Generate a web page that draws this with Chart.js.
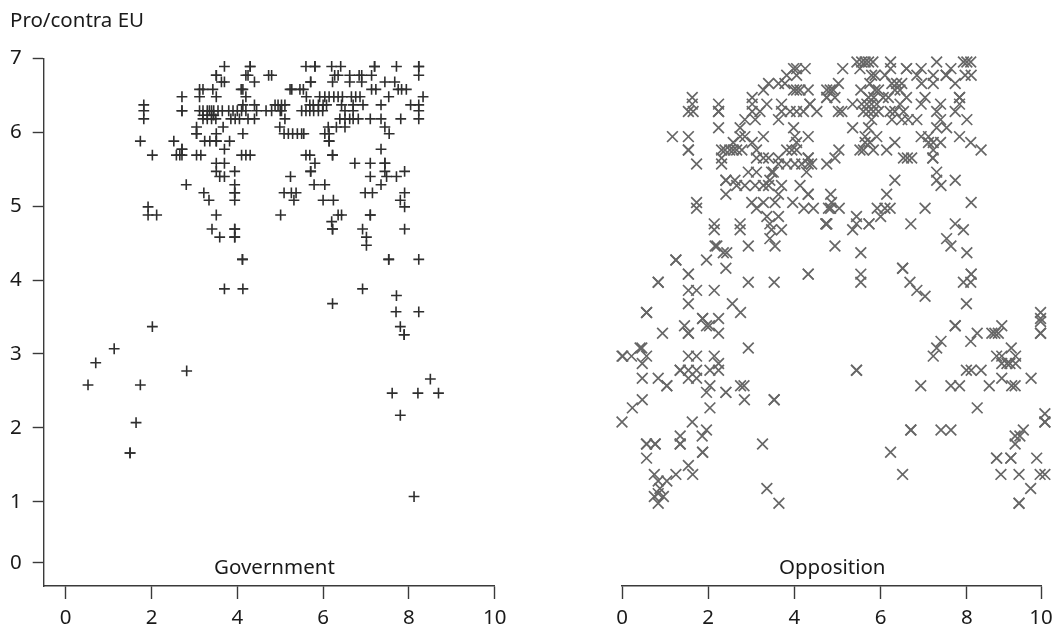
<!DOCTYPE html>
<html>
<head>
<meta charset="utf-8">
<script src="https://cdn.jsdelivr.net/npm/chart.js@4"></script>
<style>
  html, body { margin:0; padding:0; background:#fff; }
  body { position:relative; width:1060px; height:629px; overflow:hidden; font-family:"Noto Sans", sans-serif; color:#1a1a1a; }
  canvas { position:absolute; top:0; }
  .txt { position:absolute; font-size:20.5px; line-height:24px; white-space:nowrap; }
</style>
</head>
<body>
<canvas id="govChart" width="530" height="629" style="left:0"></canvas>
<canvas id="oppChart" width="530" height="629" style="left:530px"></canvas>
<div class="txt" style="left:10px;top:7px">Pro/contra EU</div>
<div class="txt" style="left:214px;top:554px">Government</div>
<div class="txt" style="left:779px;top:554px">Opposition</div>
<script>
// y levels and the x values read at each level
const govLevels = [6.89,6.77,6.68,6.58,6.48,6.37,6.29,6.23,6.18,6.07,5.98,5.88,5.77,5.69,5.58,5.47,5.4,5.29,5.18,5.08,4.99,4.88,4.79,4.69,4.58,4.47,4.28,3.88,3.79,3.68,3.57,3.37,3.26,3.07,2.88,2.77,2.66,2.58,2.47,2.17,2.07,1.66,1.07];
const govRows = [
  [3.7,4.3,4.3,5.6,5.81,5.81,6.2,6.41,7.2,7.2,7.71,8.23,8.23],
  [3.51,3.51,4.2,4.25,4.73,4.8,6.27,6.35,6.62,6.84,6.9,7.13,8.23],
  [3.63,3.7,4.4,5.71,5.71,6.22,6.62,6.9,7.44,7.67],
  [3.12,3.2,3.43,4.09,4.13,5.23,5.27,5.46,5.54,7.13,7.23,7.75,7.83,7.94],
  [2.71,3.12,3.51,4.2,5.61,5.92,6.04,6.14,6.25,6.35,6.45,6.66,6.76,6.86,7.53,8.33],
  [1.82,4.13,4.4,4.88,4.95,5.03,5.11,5.69,5.77,5.89,6.0,6.08,6.43,6.7,6.93,7.35,8.04,8.23],
  [1.82,2.71,2.71,3.12,3.2,3.3,3.35,3.4,3.45,3.55,3.65,3.8,3.9,4.0,4.1,4.2,4.45,4.67,4.8,5.0,5.03,5.5,5.6,5.69,5.78,5.89,5.99,6.51,6.7,8.23],
  [3.2,3.3,3.4,3.45],
  [1.82,3.2,3.3,3.4,3.5,3.85,3.95,4.05,4.25,4.4,5.11,6.39,6.51,6.62,6.7,6.82,7.1,7.35,7.81,8.23],
  [3.05,3.67,4.99,6.12,6.31,6.51,7.44],
  [3.05,3.05,3.51,4.13,5.09,5.19,5.29,5.4,5.5,5.55,6.04,6.14,7.54],
  [1.74,2.52,3.24,3.36,3.51,3.51,3.82,6.14,6.14],
  [2.71,2.71,3.7,7.35],
  [2.02,2.58,2.66,2.71,3.05,3.15,4.1,4.2,4.3,5.6,5.69,6.22,6.22],
  [3.51,3.7,5.81,6.74,7.1,7.44,7.44],
  [3.51,3.94,5.71,5.71,7.44,7.9],
  [3.59,3.7,5.24,7.1,7.48,7.71],
  [2.81,3.94,5.79,6.04,7.35],
  [3.22,3.94,3.94,5.09,5.26,5.37,6.98,7.15,7.9],
  [3.34,3.94,5.32,6.0,6.24,7.8],
  [1.92,7.9],
  [1.92,2.12,3.51,5.01,6.35,6.43,7.1,7.1],
  [6.2],
  [3.41,3.94,3.94,6.22,6.22,6.92,7.9],
  [3.59,3.94,3.94,7.01],
  [7.01],
  [4.12,4.12,7.53,7.53,8.23],
  [3.7,4.13,6.92],
  [7.71],
  [6.22],
  [7.7,8.23],
  [2.02,7.8],
  [7.89,7.89],
  [1.13],
  [0.7],
  [2.82],
  [8.5],
  [0.52,1.74],
  [7.61,8.21,8.69],
  [7.8],
  [1.64],
  [1.5,1.5],
  [8.12]
];

const oppLevels = [6.95,6.86,6.77,6.66,6.57,6.47,6.38,6.28,6.17,6.06,5.94,5.86,5.76,5.65,5.57,5.46,5.35,5.28,5.16,5.05,4.97,4.86,4.76,4.68,4.56,4.46,4.37,4.27,4.16,4.08,3.97,3.86,3.78,3.68,3.56,3.48,3.44,3.38,3.28,3.17,3.08,2.97,2.87,2.78,2.67,2.57,2.48,2.38,2.27,2.19,2.08,1.97,1.89,1.78,1.67,1.59,1.49,1.37,1.28,1.18,1.11,1.07,0.98];
const oppRows = [
  [5.45,5.56,5.64,5.72,5.82,6.23,7.3,7.92,8.0,8.09],
  [3.98,4.05,4.25,5.12,5.52,6.23,6.6,6.6,6.94,7.63],
  [3.82,4.05,5.79,5.87,6.1,6.84,7.22,7.52,7.52,7.96,8.1],
  [3.4,3.63,3.78,5.02,5.75,6.26,6.37,6.49,6.95,7.22,7.73],
  [3.28,3.98,4.05,4.13,4.32,4.75,4.83,4.9,5.54,5.87,5.95,6.33,6.45],
  [1.63,3.02,4.75,4.75,4.94,5.72,5.84,6.06,6.18,6.6,7.03,7.83,7.83],
  [1.63,2.24,3.02,3.36,3.7,4.36,4.36,5.35,5.56,5.68,5.79,5.91,6.45,6.94,7.39,7.83],
  [1.54,1.65,2.24,2.24,3.02,3.2,3.7,3.9,4.05,4.21,4.52,5.02,5.1,5.6,5.72,5.83,5.95,6.22,6.33,6.53,7.3,7.73],
  [2.85,3.09,3.63,5.79,6.26,6.49,6.64,6.84,7.39,8.0],
  [2.24,2.74,3.98,5.35,5.72,7.3,7.53],
  [1.17,1.54,2.74,2.85,3.28,4.01,4.32,5.64,5.91,6.94,7.11,7.83],
  [2.58,3.02,4.05,5.64,5.75,6.33,7.11,7.22,7.39,8.09],
  [1.54,1.54,2.31,2.39,2.5,2.58,2.66,2.78,3.12,3.82,3.94,4.05,5.03,5.52,5.6,5.83,6.14,7.22,8.33],
  [2.31,3.12,3.28,3.4,3.63,4.32,4.32,4.94,6.53,6.62,6.72,7.21,7.21],
  [1.73,2.31,3.63,3.82,4.01,4.17,4.32,4.4,4.75],
  [2.93,3.12,3.47,3.51,4.28,7.3],
  [2.41,2.41,2.62,3.43,6.33,7.3,7.73],
  [2.66,2.85,3.09,3.28,3.4,3.7,4.13,7.4],
  [2.41,3.63,4.32,4.32,4.84,6.14],
  [1.73,3.01,3.28,3.55,3.96,4.86,8.1],
  [1.73,3.12,4.22,4.44,4.79,4.84,5.04,5.92,6.1,6.22,7.03],
  [3.36,3.63,5.44,6.0],
  [2.14,2.74,3.43,4.73,4.73,4.75,4.75,5.44,5.73,5.73,6.7,7.73],
  [2.14,2.74,3.47,3.7,5.35,7.92],
  [3.43,7.53],
  [2.16,2.2,2.93,3.55,4.94,7.63],
  [2.35,2.43,5.54,8.0],
  [1.25,1.25,1.96],
  [2.41,6.51,6.51],
  [1.54,1.54,4.32,4.32,5.54,8.1,8.1],
  [0.84,0.84,2.93,3.53,5.54,6.68,7.92,8.09],
  [1.54,1.73,2.14,6.84],
  [7.03],
  [1.54,2.56,7.99],
  [0.57,0.57,2.75,9.71],
  [1.87,1.87,2.24,9.71],
  [9.71],
  [1.45,1.96,2.03,7.73,7.73,8.81],
  [0.94,1.54,1.54,2.24,8.24,8.58,8.65,8.73,9.71,9.71],
  [7.4,8.09],
  [0.42,0.46,2.93,7.3,9.03],
  [0,0.02,0.22,0.57,1.54,1.73,2.14,7.22,8.69,8.81,9.13],
  [0.47,2.24,8.81,8.93,9.0,9.13],
  [1.35,1.35,1.54,1.73,2.04,2.24,5.44,5.44,7.99,8.1,8.33],
  [0.47,0.84,1.54,1.73,8.81,9.49],
  [1.04,1.04,2.04,2.75,2.83,6.93,7.63,7.83,8.52,9.04,9.12],
  [1.96,2.41,2.41],
  [0.47,2.84,3.53,3.53],
  [0.24,2.04,8.24],
  [9.81],
  [0,1.63,9.81,9.81],
  [1.96,6.7,6.7,7.4,7.63,9.31],
  [1.35,1.86,9.12,9.23],
  [0.57,0.57,0.77,0.77,1.35,1.35,3.26,9.12],
  [1.87,1.87,6.23],
  [0.57,8.69,8.69,9.02,9.02,9.62],
  [1.54],
  [0.75,1.25,1.64,6.51,8.79,9.21,9.7,9.81],
  [0.84,1.04],
  [0.88,3.36,9.48],
  [0.84],
  [0.75,0.96],
  [0.84,3.64,9.21,9.21]
];

const yTickLabels = ["0","1","2","3","4","5","6","7"];
const xTickLabels = ["0","2","4","6","8","10"];
// the axes in the picture are not quite linear: the 0 on y and the 10 on the
// right hand x sit closer to their neighbour than they should
const yTickPos = [0.175,1,2,3,4,5,6,7];
const govXTickPos = [0,2,4,6,8,10];
const oppXTickPos = [0,2,4,6,8,9.72];

const axisColor = "#3a3a3a";
const labelFont = { family: "Noto Sans", size: 20.5 };

function toPoints(levels, rows) {
  return levels.flatMap((y, i) => rows[i].map(x => ({ x, y })));
}

// fixed tick positions with their own labels, no auto padding
function axis(pos, labels, tickLen, size, tickPad, extra) {
  return Object.assign({
    type: "linear",
    border: { color: axisColor, width: 1.4 },
    grid: { drawOnChartArea: false, tickLength: tickLen, tickColor: axisColor, tickWidth: 1.4 },
    ticks: {
      color: "#1a1a1a", font: labelFont, padding: tickPad, autoSkip: false, maxRotation: 0,
      callback: (v, i) => labels[i]
    },
    afterBuildTicks: s => { s.ticks = pos.map(value => ({ value })); },
    afterFit: s => {
      if (s.isHorizontal()) s.height = size; else s.width = size;
      s.paddingLeft = s.paddingRight = s.paddingTop = s.paddingBottom = 0;
    }
  }, extra);
}

function drawPanel(id, points, style, color, radius, lineW, padding, xScale, showY) {
  new Chart(document.getElementById(id), {
    type: "scatter",
    data: { datasets: [{
      data: points,
      pointStyle: style,
      pointRadius: radius,
      pointBorderColor: color,
      pointBackgroundColor: color,
      pointBorderWidth: lineW,
      clip: false
    }] },
    options: {
      responsive: false,
      animation: false,
      layout: { padding },
      plugins: { legend: { display: false }, tooltip: { enabled: false } },
      scales: {
        x: xScale,
        y: axis(yTickPos, yTickLabels, 11, 43.7, 11, { min: -0.14, max: 7, display: showY })
      }
    }
  });
}

drawPanel("govChart", toPoints(govLevels, govRows), "cross", "#2e2e2e", 5.4, 1.6,
  { top: 58.3, left: 0, right: 35.3, bottom: 0 },
  axis(govXTickPos, xTickLabels, 13, 43, 7, { min: -0.513, max: 10 }), true);

// y is hidden here but still keeps its 43.7 wide box
drawPanel("oppChart", toPoints(oppLevels, oppRows), "crossRot", "#666666", 7.6, 1.7,
  { top: 58.3, left: 48.3, right: 19, bottom: 0 },
  axis(oppXTickPos, xTickLabels, 13, 43, 7, { min: 0, max: 9.72 }), false);
</script>
</body>
</html>
